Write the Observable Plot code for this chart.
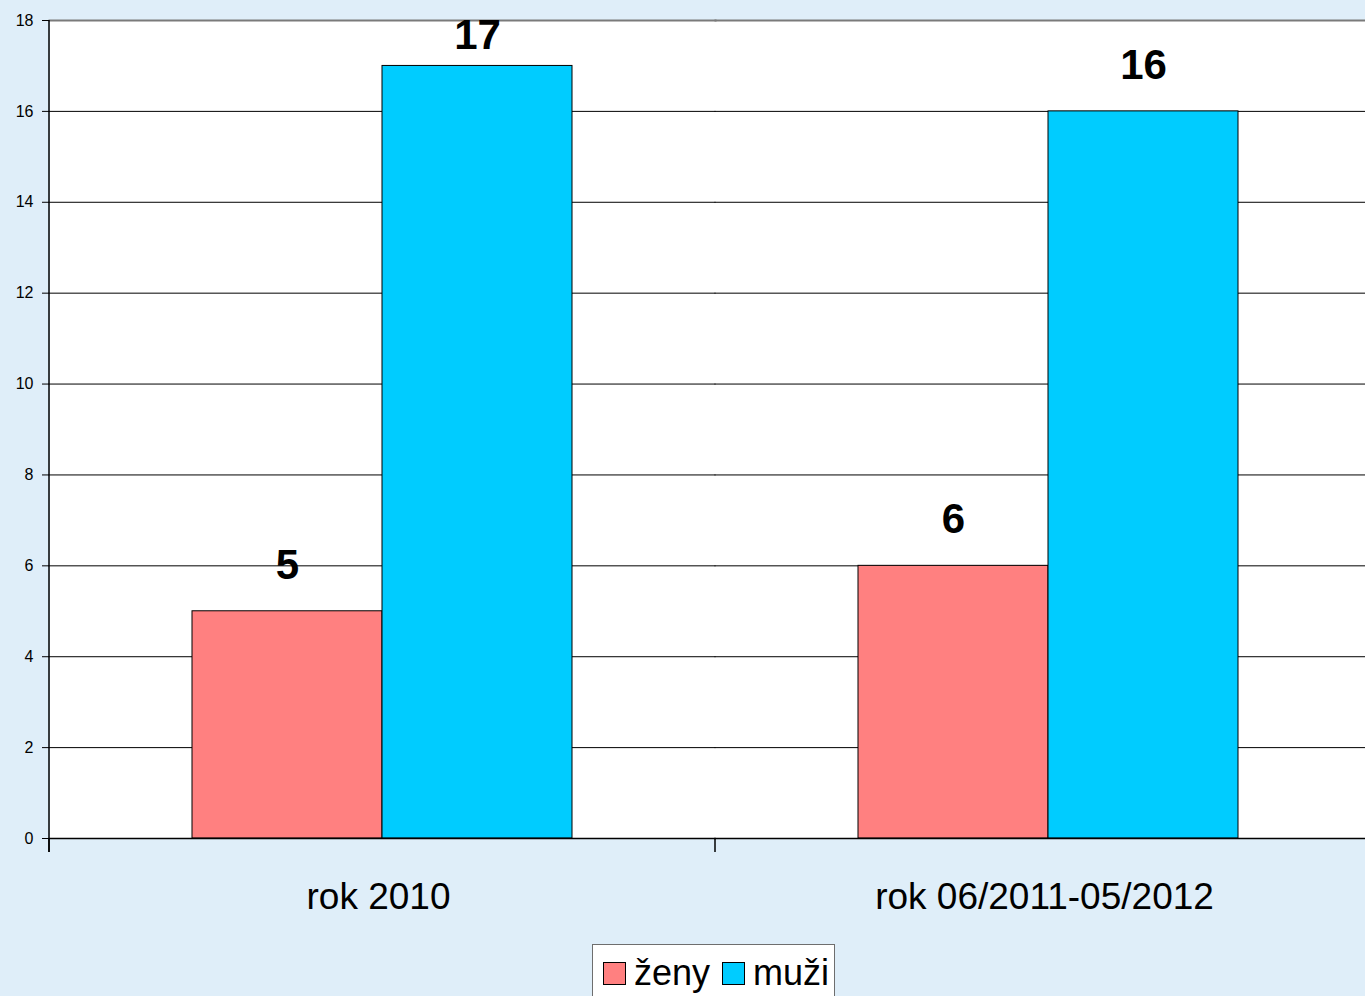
<!DOCTYPE html>
<html>
<head>
<meta charset="utf-8">
<script src="https://cdn.jsdelivr.net/npm/d3@7"></script>
<script src="https://cdn.jsdelivr.net/npm/@observablehq/plot@0.6"></script>
<style>
  html, body { margin: 0; padding: 0; background: #dfeef9; overflow: hidden; }
  #wrap { position: relative; width: 1365px; height: 996px; font-family: "Liberation Sans", Arial, sans-serif; }
  #legend { position: absolute; left: 592px; top: 944px; width: 241px; height: 70px; background: #fff; border: 1px solid #6e6e6e; }
  #legend .sw { position: absolute; top: 17px; width: 21px; height: 21px; border: 1px solid #000; }
  #legend .lb { position: absolute; top: 6px; font-size: 36px; line-height: 44px; color: #000; }
</style>
</head>
<body>
<div id="wrap"></div>
<script>
const categories = ["rok 2010", "rok 06/2011-05/2012"];
const series = ["ženy", "muži"];
const zeny = [5, 6];
const muzi = [17, 16];
const yTicks = [0, 2, 4, 6, 8, 10, 12, 14, 16, 18];
const colors = ["#ff8080", "#00ccff"];

const data = [];
categories.forEach((c, i) => {
  data.push({cat: c, s: "ženy", value: zeny[i]});
  data.push({cat: c, s: "muži", value: muzi[i]});
});

const plot = Plot.plot({
  width: 1365,
  height: 996,
  marginLeft: 49,
  marginRight: -16,
  marginTop: 20,
  marginBottom: 158,
  style: {background: "#dfeef9", fontFamily: "'Liberation Sans', Arial, sans-serif", color: "#000", overflow: "visible"},
  fx: {domain: categories, padding: 0, round: false},
  x: {domain: series, paddingInner: 0, paddingOuter: 0.7526, round: false},
  y: {domain: [0, 18], ticks: yTicks},
  color: {domain: series, range: colors},
  marks: [
    Plot.frame({fill: "white", stroke: null, shapeRendering: "crispEdges", insetRight: -1}),
    Plot.gridY(yTicks.filter(t => t < 18), {stroke: "#000", strokeOpacity: 1, strokeWidth: 1, strokeLinecap: "square"}),
    Plot.frame({anchor: "top", stroke: "#7a7a7a", strokeWidth: 2, strokeLinecap: "square"}),
    Plot.barY(data, {fx: "cat", x: "s", y: "value", fill: "s", stroke: "#000", strokeWidth: 1}),
    Plot.ruleY([0], {stroke: "#000", strokeWidth: 1.5, strokeLinecap: "square"}),
    Plot.text(data, {fx: "cat", x: "s", y: d => Math.min(d.value, 16.65), text: d => String(d.value),
      dy: -46, lineAnchor: "middle", fontSize: 42, fontWeight: "bold", fill: "#000"}),
    Plot.axisY({ticks: yTicks, tickSize: 7, tickPadding: 9, fontSize: 16, label: null, stroke: "#000"}),
    Plot.axisFx({anchor: "bottom", tickSize: 0, tickPadding: 44, fontSize: 37, dx: -4, label: null}),
    Plot.axisX({ticks: [], label: null})
  ]
});

document.getElementById("wrap").appendChild(plot);

// Axis line and category boundary ticks, placed with the plot's own scales
const fx = plot.scale("fx");
const y = plot.scale("y");
const svg = d3.select(plot);
const y0 = y.apply(0), yTop = y.apply(18);
const g = svg.append("g").attr("stroke", "#000").attr("stroke-width", 1.5);
g.append("line").attr("x1", fx.apply(categories[0])).attr("x2", fx.apply(categories[0]))
  .attr("y1", yTop).attr("y2", y0 + 14);
categories.forEach(c => {
  const xx = fx.apply(c);
  g.append("line").attr("x1", xx).attr("x2", xx).attr("y1", y0).attr("y2", y0 + 14);
});

// Legend
const legend = document.createElement("div");
legend.id = "legend";
const pos = [{sw: 10, lb: 41}, {sw: 129, lb: 160}];
series.forEach((s, i) => {
  const sw = document.createElement("div");
  sw.className = "sw";
  sw.style.left = pos[i].sw + "px";
  sw.style.background = colors[i];
  const lb = document.createElement("div");
  lb.className = "lb";
  lb.style.left = pos[i].lb + "px";
  lb.textContent = s;
  legend.appendChild(sw);
  legend.appendChild(lb);
});
document.getElementById("wrap").appendChild(legend);
</script>
</body>
</html>
